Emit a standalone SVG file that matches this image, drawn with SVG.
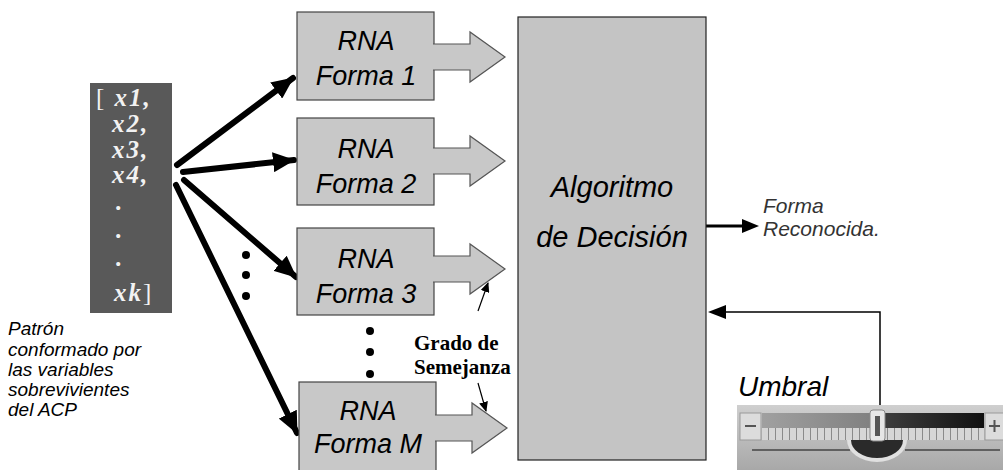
<svg xmlns="http://www.w3.org/2000/svg" width="1003" height="470" viewBox="0 0 1003 470">
<defs>
<style>
.box{fill:#c8c8c8;stroke:#444;stroke-width:1.2}
.blk{fill:#c8c8c8;stroke:#555;stroke-width:1.2}
.lbl{font-family:"Liberation Sans",Arial,sans-serif;font-style:italic;font-size:27px;fill:#000;text-anchor:middle}
.vec{font-family:"Liberation Serif","Times New Roman",serif;font-style:italic;font-weight:bold;font-size:25px;letter-spacing:2px;fill:#f2f2f2}
.up{font-style:normal;font-weight:normal}
.side{font-family:"Liberation Sans",Arial,sans-serif;font-style:italic;font-size:19px;fill:#000}
.grado{font-family:"Liberation Serif","Times New Roman",serif;font-weight:bold;font-size:21px;fill:#000}
.thick{stroke:#000;stroke-width:6;fill:none;stroke-linecap:round}
</style>
<marker id="ah2" markerWidth="10" markerHeight="9" refX="9" refY="4.5" orient="auto" markerUnits="userSpaceOnUse" viewBox="0 0 10 9">
<path d="M0,0 L10,4.5 L0,9 Z" fill="#000"/>
</marker>
<marker id="ah3" markerWidth="22" markerHeight="20" refX="21" refY="10" orient="auto" markerUnits="userSpaceOnUse" viewBox="0 0 22 20">
<path d="M0,0 L22,10 L0,20 Z" fill="#000"/>
</marker>
<linearGradient id="track" x1="0" x2="1" y1="0" y2="0">
<stop offset="0" stop-color="#a0a0a0"/>
<stop offset="0.5" stop-color="#808080"/>
<stop offset="0.52" stop-color="#404040"/>
<stop offset="1" stop-color="#101010"/>
</linearGradient>
<linearGradient id="sbg" x1="0" x2="0" y1="0" y2="1">
<stop offset="0" stop-color="#cfcfcf"/>
<stop offset="1" stop-color="#a8a8a8"/>
</linearGradient>
<pattern id="ticks" x="762" y="0" width="7" height="20" patternUnits="userSpaceOnUse">
<rect width="7" height="20" fill="#d6d6d6"/>
<line x1="6.5" y1="0" x2="6.5" y2="20" stroke="#8a8a8a" stroke-width="1"/>
</pattern>
</defs>

<g id="vector">
<rect x="90" y="83" width="82" height="230" fill="#595959"/>
<text class="vec" x="96" y="106"><tspan class="up">[</tspan> x1,</text>
<text class="vec" x="112" y="132">x2,</text>
<text class="vec" x="112" y="158">x3,</text>
<text class="vec" x="112" y="183">x4,</text>
<text class="vec" x="116" y="210">.</text>
<text class="vec" x="116" y="238">.</text>
<text class="vec" x="116" y="266">.</text>
<text class="vec" x="114" y="301">xk<tspan class="up">]</tspan></text>
</g>

<g id="patron-label">
<text class="side" x="8" y="335">Patrón</text>
<text class="side" x="8" y="356">conformado por</text>
<text class="side" x="8" y="376">las variables</text>
<text class="side" x="8" y="396">sobrevivientes</text>
<text class="side" x="8" y="416">del ACP</text>
</g>

<g id="connectors">
<line class="thick" x1="177" y1="165" x2="293" y2="78" marker-end="url(#ah3)"/>
<line class="thick" x1="183" y1="172" x2="294" y2="160" marker-end="url(#ah3)"/>
<line class="thick" x1="184" y1="180" x2="296" y2="277" marker-end="url(#ah3)"/>
<line class="thick" x1="176" y1="185" x2="297" y2="433" marker-end="url(#ah3)"/>
<line x1="706" y1="226" x2="745" y2="226" stroke="#000" stroke-width="3"/>
<path d="M759,226 L742,219 L742,233 Z" fill="#000"/>
<polyline points="880,407 880,312 720,312" fill="none" stroke="#000" stroke-width="1.5"/>
<path d="M708,312 L726,305 L726,319 Z" fill="#000"/>
<line x1="478" y1="311" x2="488" y2="283" stroke="#000" stroke-width="1.2" marker-end="url(#ah2)"/>
<line x1="478" y1="383" x2="486" y2="411" stroke="#000" stroke-width="1.2" marker-end="url(#ah2)"/>
</g>

<g id="dots" fill="#000">
<circle cx="246" cy="255" r="4"/>
<circle cx="246" cy="275" r="4"/>
<circle cx="246" cy="296" r="4"/>
<circle cx="370" cy="331" r="4"/>
<circle cx="370" cy="352" r="4"/>
<circle cx="370" cy="374" r="4"/>
</g>

<g id="rna1">
<rect class="box" x="297" y="12" width="137" height="88"/>
<path class="blk" d="M433,44 H470 V32 L505,57 L470,82 V70 H433"/>
<text class="lbl" x="366" y="50">RNA</text>
<text class="lbl" x="366" y="85">Forma 1</text>
</g>
<g id="rna2">
<rect class="box" x="297" y="118" width="137" height="87"/>
<path class="blk" d="M433,148 H470 V136 L505,161 L470,186 V174 H433"/>
<text class="lbl" x="366" y="158">RNA</text>
<text class="lbl" x="366" y="193">Forma 2</text>
</g>
<g id="rna3">
<rect class="box" x="297" y="228" width="137" height="87"/>
<path class="blk" d="M433,256 H470 V244 L505,269 L470,294 V282 H433"/>
<text class="lbl" x="366" y="268">RNA</text>
<text class="lbl" x="366" y="303">Forma 3</text>
</g>
<g id="rnaM">
<rect class="box" x="299" y="382" width="137" height="92"/>
<path class="blk" d="M435,415 H472 V403 L507,428 L472,453 V441 H435"/>
<text class="lbl" x="368" y="420">RNA</text>
<text class="lbl" x="368" y="453">Forma M</text>
</g>

<g id="grado">
<text class="grado" x="414" y="350">Grado de</text>
<text class="grado" x="414" y="374">Semejanza</text>
</g>

<g id="decision">
<rect x="518" y="17" width="188" height="443" fill="#c4c4c4" stroke="#222" stroke-width="1.2"/>
<text class="lbl" x="612" y="197" style="font-size:29px">Algoritmo</text>
<text class="lbl" x="612" y="247" style="font-size:29px">de Decisión</text>
</g>

<g id="output">
<text class="side" x="763" y="213" style="fill:#333;font-size:21px">Forma</text>
<text class="side" x="763" y="236" style="fill:#333;font-size:21px">Reconocida.</text>
</g>

<g id="umbral">
<text class="side" x="738" y="396" style="font-size:28px">Umbral</text>
<rect x="737" y="405" width="266" height="65" fill="url(#sbg)"/>
<rect x="740" y="413" width="21" height="27" fill="#dcdcdc" stroke="#999" stroke-width="1"/>
<line x1="745" y1="426" x2="756" y2="426" stroke="#555" stroke-width="2"/>
<rect x="762" y="413" width="222" height="15" fill="url(#track)"/>
<rect x="762" y="428" width="222" height="12" fill="url(#ticks)"/>
<rect x="985" y="413" width="20" height="27" fill="#dcdcdc" stroke="#999" stroke-width="1"/>
<line x1="989" y1="426" x2="1000" y2="426" stroke="#555" stroke-width="2"/>
<line x1="994.5" y1="420" x2="994.5" y2="432" stroke="#555" stroke-width="2"/>
<line x1="752" y1="450" x2="850" y2="450" stroke="#444" stroke-width="1.5"/>
<line x1="905" y1="450" x2="1000" y2="450" stroke="#444" stroke-width="1.5"/>
<path d="M847,440 A30,22 0 0 0 907,440 Z" fill="#e0e0e0"/>
<path d="M851,440 A26,18 0 0 0 903,440 Z" fill="#2a2a2a"/>
<rect x="870" y="410" width="15" height="31" rx="3" fill="#e6e6e6" stroke="#888" stroke-width="1"/>
<rect x="875" y="416" width="5" height="20" fill="#555"/>
</g>
</svg>
